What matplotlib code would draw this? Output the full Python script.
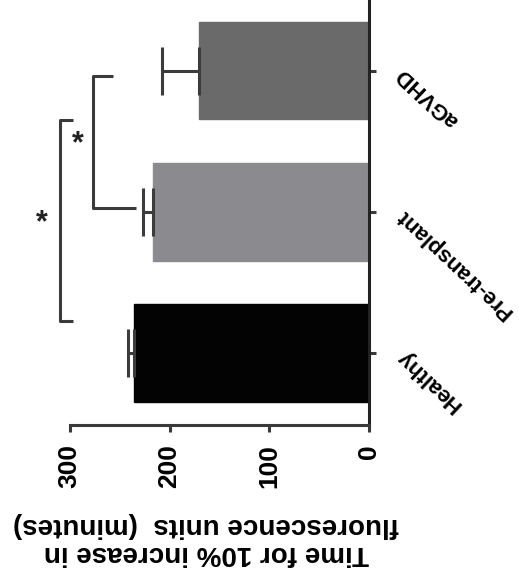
import matplotlib
matplotlib.use("Agg")
from matplotlib import pyplot as plt

# data read from the (rotated) bar chart
categories = ["Healthy", "Pre-transplant", "aGVHD"]
means = [236, 217, 170]
sem = [6, 10, 38]
bar_colors = ["#030303", "#8b8b8f", "#6a6a6a"]
value_ticks = [0, 100, 200, 300]

# significance brackets: (low pos, high pos, line x, low arm end, high arm end, star x, star pos)
brackets = [
    (1.03, 1.96, 277, 234, 257, 292, 1.48),
    (0.23, 1.65, 310, 297, 297, 328, 0.92),
]

plt.rcParams['font.family'] = ['Liberation Sans', 'DejaVu Sans']
plt.rcParams['font.weight'] = 'bold'

fig = plt.figure(figsize=(5.19, 5.79), dpi=100)
ax = fig.add_axes([0.0, 1 - 425 / 579, 369 / 519, 425 / 579])

pos = list(range(len(categories)))
ax.barh(pos, means, height=0.69, color=bar_colors, edgecolor=bar_colors, linewidth=1, zorder=2)
ax.errorbar(means, pos, xerr=[[0] * len(sem), sem], fmt='none', ecolor='#3c3c3c',
            elinewidth=2.2, capsize=17, capthick=2.2, zorder=3)

for lo, hi, xl, xe_lo, xe_hi, xs, ps in brackets:
    ax.plot([xe_hi, xl, xl, xe_lo], [hi, hi, lo, lo], color='#3a3a3a', lw=2.2,
            solid_capstyle='butt', clip_on=False)
    ax.text(xs, ps, '*', fontsize=22, ha='center', va='center', color='#222222')

ax.set_xlim(370, 0)
ax.set_ylim(-0.51, 2.5)

for side in ['left', 'top']:
    ax.spines[side].set_visible(False)
ax.spines['right'].set_linewidth(2.2)
ax.spines['bottom'].set_linewidth(2.2)
ax.spines['bottom'].set_bounds(0, 300)
ax.spines['right'].set_color('#222222')
ax.spines['bottom'].set_color('#3a3a3a')

ax.set_xticks(value_ticks)
ax.set_xticklabels([str(v) for v in value_ticks])
ax.tick_params(axis='x', length=5, width=2.2, color='#3a3a3a', labelsize=19, pad=9, labelrotation=90)

ax.yaxis.tick_right()
ax.set_yticks(pos)
ax.set_yticklabels(categories, rotation=137, rotation_mode='anchor', ha='right', va='center')
ax.tick_params(axis='y', length=5, width=2.2, color='#3a3a3a', labelsize=16, pad=17)

fig.text(206 / 519, 1 - 539 / 579, "Time for 10% increase in\nfluorescence units  (minutes)",
         rotation=180, ha='center', va='center', fontsize=20, fontweight='bold', linespacing=1.15)

fig.savefig("out.png", dpi=100, facecolor='white')
